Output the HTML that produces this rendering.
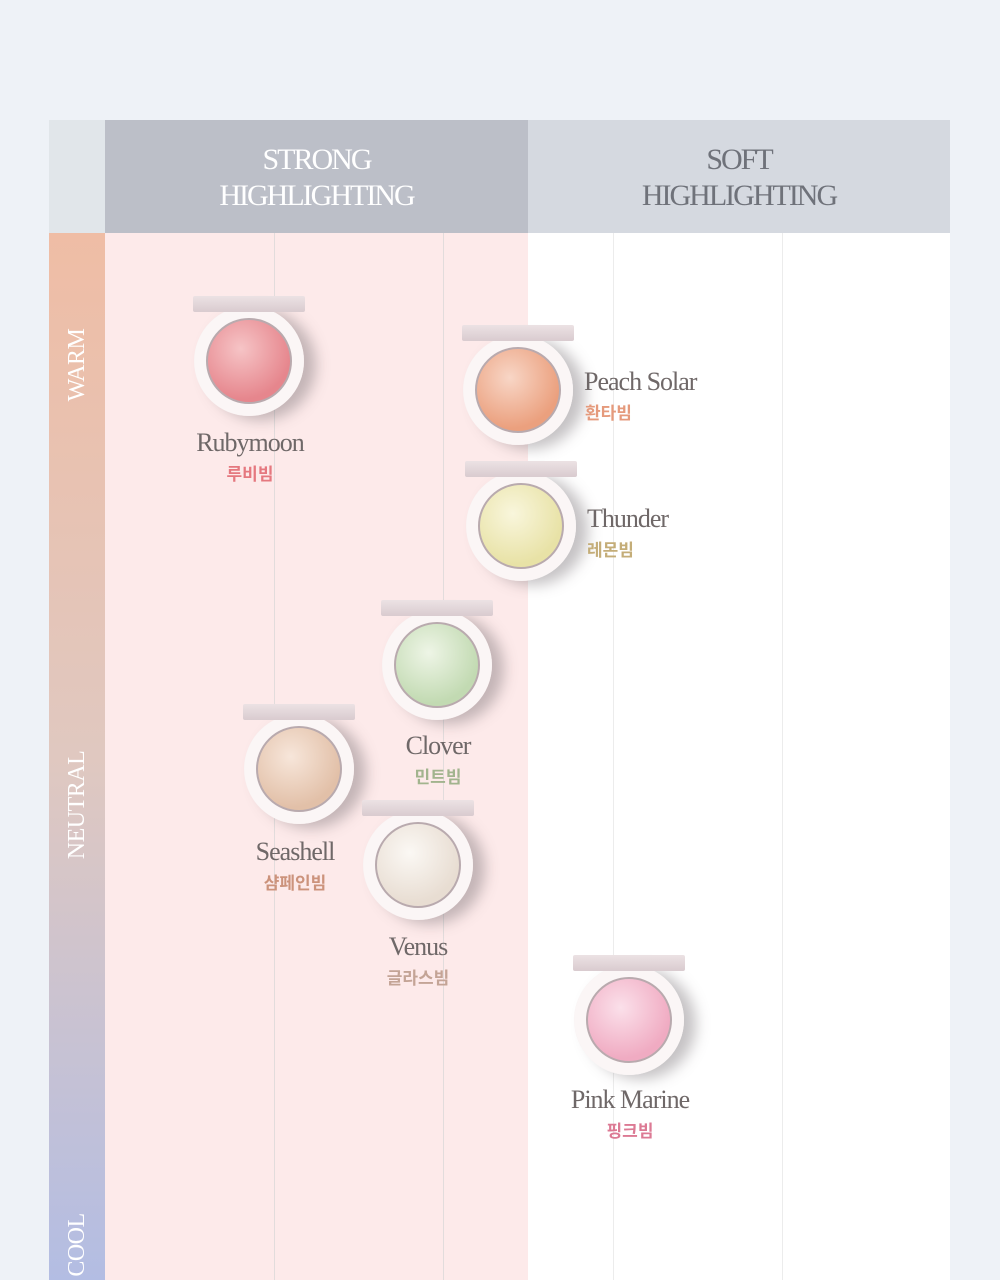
<!DOCTYPE html>
<html style="overflow:hidden;height:1280px"><head><meta charset="utf-8"><style>
body{margin:0;width:1000px;height:1280px;background:#eef2f7;position:relative;overflow:hidden;font-family:"Liberation Serif",serif}
.a{position:absolute}
.hd{color:#fff;font-size:30px;text-align:center;line-height:36px;letter-spacing:-2px}
.side{position:absolute;color:#fff;font-size:24px;transform:rotate(-90deg);transform-origin:center;white-space:nowrap;width:200px;height:30px;line-height:30px;text-align:center;letter-spacing:-0.5px}
.vl{position:absolute;top:233px;width:1px;height:1047px;background:#e2dcdc}
.c{position:absolute;width:112px;height:130px}
.lid{position:absolute;left:0;top:0;width:112px;height:16px;background:linear-gradient(#ece2e4,#d9cbcf);border-radius:2px}
.ring{position:absolute;left:1px;top:10px;width:110px;height:110px;border-radius:50%;background:radial-gradient(circle,#fbf6f6 70%,#cfc2c4 78%,#f4eeee 86%,#cfc2c4 100%);box-shadow:12px 4px 14px rgba(90,80,85,.35)}
.pan{position:absolute;left:12px;top:12px;width:86px;height:86px;border-radius:50%;border:2px solid #b9aaae;box-sizing:border-box}
.n{position:absolute;font-size:26px;color:#6f6868;letter-spacing:-1px;white-space:nowrap}
.k{position:absolute;font-family:"Liberation Sans","Noto Sans CJK KR",sans-serif;font-size:17px;font-weight:bold;white-space:nowrap}
.ctr{transform:translateX(-50%)}
</style></head><body>
<div class="a" style="left:49px;top:120px;width:56px;height:113px;background:#e1e6ea"></div>
<div class="a hd" style="left:105px;top:120px;width:423px;height:113px;background:#bcbfc8;padding-top:22px;box-sizing:border-box">STRONG<br>HIGHLIGHTING</div>
<div class="a hd" style="left:528px;top:120px;width:422px;height:113px;background:#d5d9e0;padding-top:22px;box-sizing:border-box;color:#6f727a">SOFT<br>HIGHLIGHTING</div>
<div class="a" style="left:49px;top:233px;width:56px;height:1047px;background:linear-gradient(#efbda5,#e0c8c0 50%,#b3bde3)"></div>
<div class="a" style="left:105px;top:233px;width:423px;height:1047px;background:#fdeaea"></div>
<div class="a" style="left:528px;top:233px;width:422px;height:1047px;background:#fff"></div>
<div class="vl" style="left:274px"></div><div class="vl" style="left:443px"></div>
<div class="vl" style="left:613px;background:#ececec"></div><div class="vl" style="left:782px;background:#ececec"></div>
<div class="side" style="left:-23px;top:350px">WARM</div>
<div class="side" style="left:-23px;top:790px">NEUTRAL</div>
<div class="side" style="left:-23px;top:1230px">COOL</div>

<div class="c" style="left:193px;top:296px"><div class="ring"><div class="pan" style="background:radial-gradient(circle at 40% 35%,#f6c4c6,#e6868d 70%)"></div></div><div class="lid"></div></div>
<div class="n ctr" style="left:250px;top:428px">Rubymoon</div><div class="k ctr" style="left:250px;top:460px;color:#e5787f">루비빔</div>

<div class="c" style="left:462px;top:325px"><div class="ring"><div class="pan" style="background:radial-gradient(circle at 40% 35%,#f8d6c6,#eba07e 70%)"></div></div><div class="lid"></div></div>
<div class="n" style="left:584px;top:367px">Peach Solar</div><div class="k" style="left:585px;top:399px;color:#e59a7c">환타빔</div>

<div class="c" style="left:465px;top:461px"><div class="ring"><div class="pan" style="background:radial-gradient(circle at 40% 35%,#f9f6dc,#e8e2a6 70%)"></div></div><div class="lid"></div></div>
<div class="n" style="left:587px;top:504px">Thunder</div><div class="k" style="left:587px;top:536px;color:#c4ad78">레몬빔</div>

<div class="c" style="left:381px;top:600px"><div class="ring"><div class="pan" style="background:radial-gradient(circle at 40% 35%,#eef5e6,#c2dab2 70%)"></div></div><div class="lid"></div></div>
<div class="n ctr" style="left:438px;top:731px">Clover</div><div class="k ctr" style="left:438px;top:763px;color:#a2b48e">민트빔</div>

<div class="c" style="left:243px;top:704px"><div class="ring"><div class="pan" style="background:radial-gradient(circle at 40% 35%,#f7e6da,#e2c0a8 70%)"></div></div><div class="lid"></div></div>
<div class="n ctr" style="left:295px;top:837px">Seashell</div><div class="k ctr" style="left:295px;top:869px;color:#cc937c">샴페인빔</div>

<div class="c" style="left:362px;top:800px"><div class="ring"><div class="pan" style="background:radial-gradient(circle at 40% 35%,#fbf8f4,#e8ddd2 70%)"></div></div><div class="lid"></div></div>
<div class="n ctr" style="left:418px;top:932px">Venus</div><div class="k ctr" style="left:418px;top:964px;color:#c4a496">글라스빔</div>

<div class="c" style="left:573px;top:955px"><div class="ring"><div class="pan" style="background:radial-gradient(circle at 40% 35%,#fbe0ea,#f0abc2 70%)"></div></div><div class="lid"></div></div>
<div class="n ctr" style="left:630px;top:1085px">Pink Marine</div><div class="k ctr" style="left:630px;top:1117px;color:#dc7a94">핑크빔</div>
</body></html>
